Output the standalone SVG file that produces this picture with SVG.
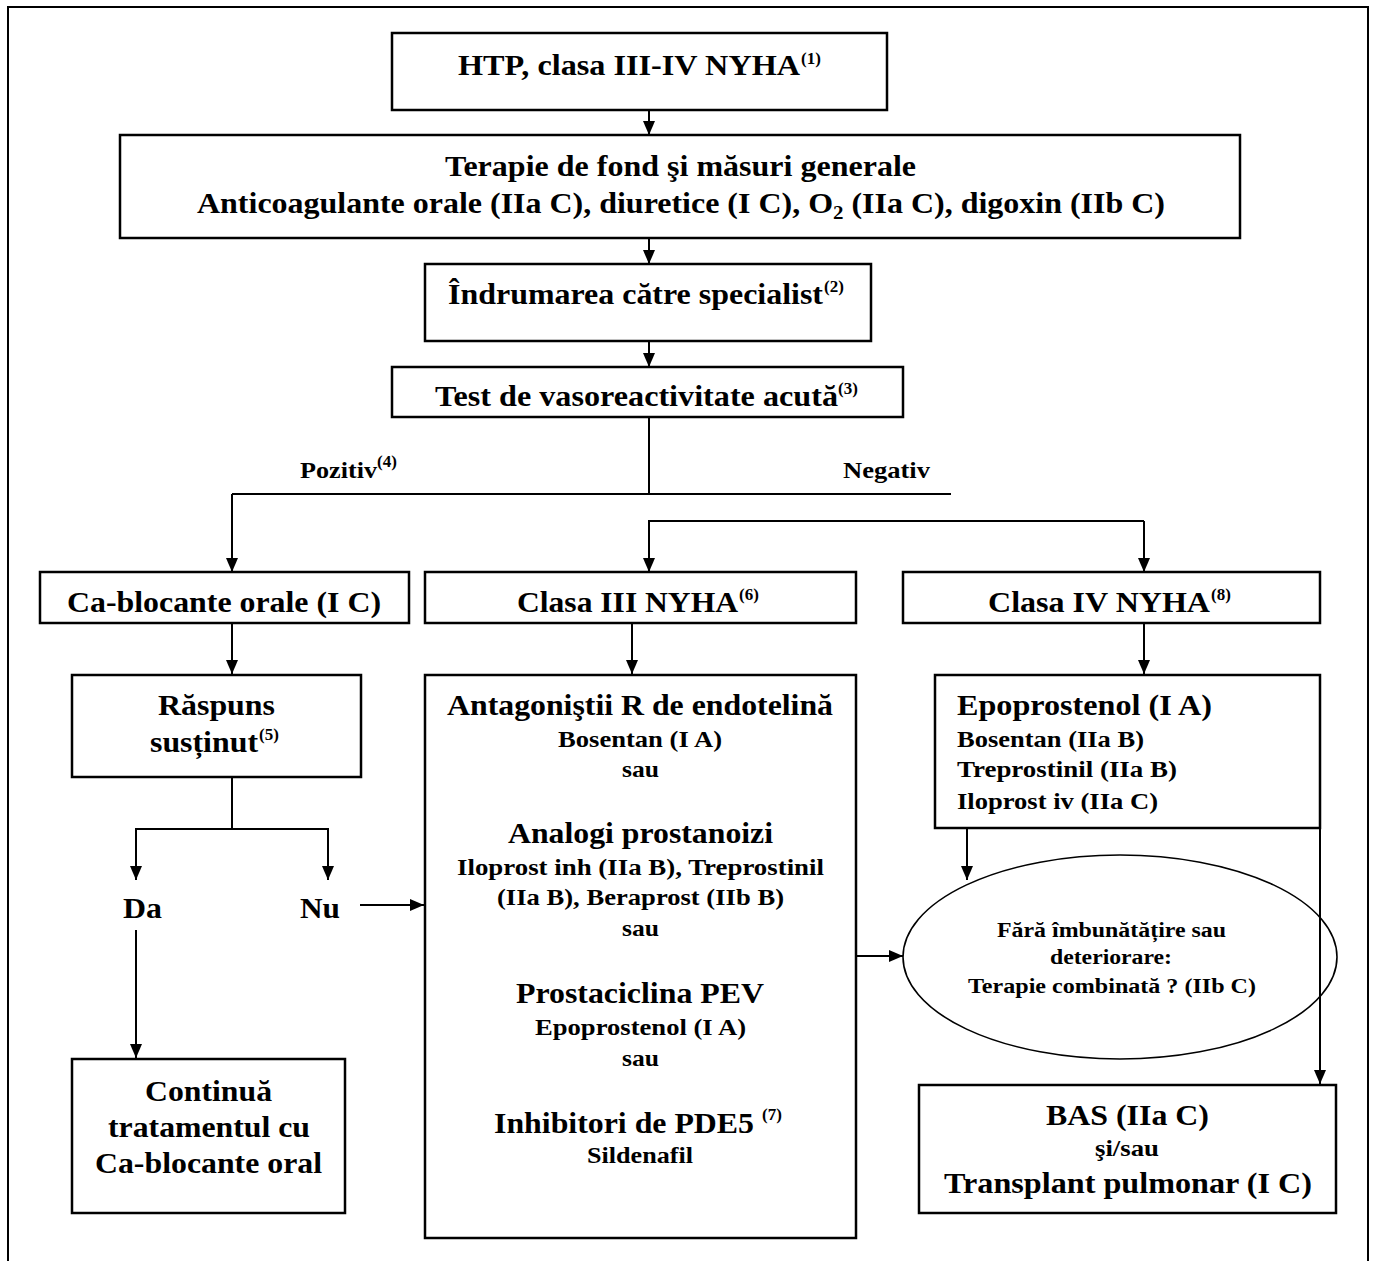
<svg xmlns="http://www.w3.org/2000/svg" width="1374" height="1261" viewBox="0 0 1374 1261">
<defs>
<marker id="ah" viewBox="0 0 14 12" refX="14" refY="6" markerWidth="14" markerHeight="12" markerUnits="userSpaceOnUse" orient="auto">
<path d="M0,0 L14,6 L0,12 z" fill="#000"/>
</marker>
</defs>
<style>
text{font-family:"Liberation Serif","Times New Roman",serif;font-weight:bold;fill:#000}
.b{fill:#fff;stroke:#000;stroke-width:2.5}
.c{fill:none;stroke:#000;stroke-width:2}
.a{marker-end:url(#ah)}
.L{font-size:29px}
.M{font-size:23px}
.S{font-size:20px}
.sup{font-size:17px}
</style>
<rect x="0" y="0" width="1374" height="1261" fill="#fff"/>
<rect x="8" y="7" width="1360" height="1270" fill="none" stroke="#000" stroke-width="2"/>

<g id="connectors">
<line class="c a" x1="649" y1="110" x2="649" y2="135"/>
<line class="c a" x1="649" y1="238" x2="649" y2="264"/>
<line class="c a" x1="649" y1="341" x2="649" y2="367"/>
<polyline class="c" points="649,417 649,494"/>
<line class="c" x1="232" y1="494" x2="951" y2="494"/>
<line class="c a" x1="232" y1="494" x2="232" y2="572"/>
<polyline class="c a" points="1144,521 649,521 649,572"/>
<line class="c a" x1="1144" y1="521" x2="1144" y2="572"/>
<line class="c a" x1="232" y1="623" x2="232" y2="674"/>
<line class="c a" x1="632" y1="623" x2="632" y2="674"/>
<line class="c a" x1="1144" y1="623" x2="1144" y2="674"/>
<line class="c" x1="232" y1="777" x2="232" y2="829"/>
<polyline class="c a" points="232,829 136,829 136,880"/>
<polyline class="c a" points="232,829 328,829 328,880"/>
<line class="c a" x1="136" y1="930" x2="136" y2="1058"/>
<line class="c a" x1="360" y1="905" x2="424" y2="905"/>
<line class="c a" x1="856" y1="956" x2="903" y2="956"/>
<line class="c a" x1="967" y1="828" x2="967" y2="880"/>
<line class="c a" x1="1320" y1="828" x2="1320" y2="1084"/>
</g>

<g id="n-htp">
<rect class="b" x="392" y="33" width="495" height="77"/>
<text class="L" x="458" y="75" textLength="342" lengthAdjust="spacingAndGlyphs">HTP, clasa III-IV NYHA</text>
<text class="sup" x="801" y="64">(1)</text>
</g>

<g id="n-terapie">
<rect class="b" x="120" y="135" width="1120" height="103"/>
<text class="L" x="445" y="176" textLength="471" lengthAdjust="spacingAndGlyphs">Terapie de fond şi măsuri generale</text>
<text class="L" x="197" y="213" textLength="968" lengthAdjust="spacingAndGlyphs">Anticoagulante orale (IIa C), diuretice (I C), O<tspan font-size="19" dy="6">2</tspan><tspan dy="-6"> (IIa C), digoxin (IIb C)</tspan></text>
</g>

<g id="n-indrumare">
<rect class="b" x="425" y="264" width="446" height="77"/>
<text class="L" x="448" y="304" textLength="375" lengthAdjust="spacingAndGlyphs">Îndrumarea către specialist</text>
<text class="sup" x="824" y="292">(2)</text>
</g>

<g id="n-test">
<rect class="b" x="392" y="367" width="511" height="50"/>
<text class="L" x="435" y="406" textLength="403" lengthAdjust="spacingAndGlyphs">Test de vasoreactivitate acută</text>
<text class="sup" x="838" y="394">(3)</text>
</g>

<g id="l-pozitiv">
<text class="M" x="300" y="478" textLength="77" lengthAdjust="spacingAndGlyphs">Pozitiv</text>
<text class="sup" x="377" y="467" font-size="15">(4)</text>
</g>
<g id="l-negativ">
<text class="M" x="843" y="478" textLength="87" lengthAdjust="spacingAndGlyphs">Negativ</text>
</g>

<g id="n-cablocante">
<rect class="b" x="40" y="572" width="369" height="51"/>
<text class="L" x="67" y="612" textLength="314" lengthAdjust="spacingAndGlyphs">Ca-blocante orale (I C)</text>
</g>

<g id="n-clasa3">
<rect class="b" x="425" y="572" width="431" height="51"/>
<text class="L" x="517" y="612" textLength="221" lengthAdjust="spacingAndGlyphs">Clasa III NYHA</text>
<text class="sup" x="739" y="600">(6)</text>
</g>

<g id="n-clasa4">
<rect class="b" x="903" y="572" width="417" height="51"/>
<text class="L" x="988" y="612" textLength="222" lengthAdjust="spacingAndGlyphs">Clasa IV NYHA</text>
<text class="sup" x="1211" y="600">(8)</text>
</g>

<g id="n-raspuns">
<rect class="b" x="72" y="675" width="289" height="102"/>
<text class="L" x="158" y="715" textLength="117" lengthAdjust="spacingAndGlyphs">Răspuns</text>
<text class="L" x="150" y="752" textLength="108" lengthAdjust="spacingAndGlyphs">susținut</text>
<text class="sup" x="259" y="740">(5)</text>
</g>

<g id="l-da"><text class="L" x="123" y="918" textLength="39" lengthAdjust="spacingAndGlyphs">Da</text></g>
<g id="l-nu"><text class="L" x="300" y="918" textLength="40" lengthAdjust="spacingAndGlyphs">Nu</text></g>

<g id="n-continua">
<rect class="b" x="72" y="1059" width="273" height="154"/>
<text class="L" x="145" y="1101" textLength="127" lengthAdjust="spacingAndGlyphs">Continuă</text>
<text class="L" x="108" y="1137" textLength="202" lengthAdjust="spacingAndGlyphs">tratamentul cu</text>
<text class="L" x="95" y="1173" textLength="227" lengthAdjust="spacingAndGlyphs">Ca-blocante oral</text>
</g>

<g id="n-tratament3">
<rect class="b" x="425" y="675" width="431" height="563"/>
<text class="L" x="447" y="715" textLength="386" lengthAdjust="spacingAndGlyphs">Antagoniştii R de endotelină</text>
<text class="M" x="558" y="747" textLength="164" lengthAdjust="spacingAndGlyphs">Bosentan (I A)</text>
<text class="M" x="622" y="777" textLength="37" lengthAdjust="spacingAndGlyphs">sau</text>
<text class="L" x="508" y="843" textLength="265" lengthAdjust="spacingAndGlyphs">Analogi prostanoizi</text>
<text class="M" x="457" y="875" textLength="367" lengthAdjust="spacingAndGlyphs">Iloprost inh (IIa B), Treprostinil</text>
<text class="M" x="497" y="905" textLength="287" lengthAdjust="spacingAndGlyphs">(IIa B), Beraprost (IIb B)</text>
<text class="M" x="622" y="936" textLength="37" lengthAdjust="spacingAndGlyphs">sau</text>
<text class="L" x="516" y="1003" textLength="248" lengthAdjust="spacingAndGlyphs">Prostaciclina PEV</text>
<text class="M" x="535" y="1035" textLength="211" lengthAdjust="spacingAndGlyphs">Epoprostenol (I A)</text>
<text class="M" x="622" y="1066" textLength="37" lengthAdjust="spacingAndGlyphs">sau</text>
<text class="L" x="494" y="1133" textLength="260" lengthAdjust="spacingAndGlyphs">Inhibitori de PDE5</text>
<text class="sup" x="762" y="1120">(7)</text>
<text class="M" x="587" y="1163" textLength="106" lengthAdjust="spacingAndGlyphs">Sildenafil</text>
</g>

<g id="n-tratament4">
<rect class="b" x="935" y="675" width="385" height="153"/>
<text class="L" x="957" y="715" textLength="255" lengthAdjust="spacingAndGlyphs">Epoprostenol (I A)</text>
<text class="M" x="957" y="747" textLength="187" lengthAdjust="spacingAndGlyphs">Bosentan (IIa B)</text>
<text class="M" x="957" y="777" textLength="220" lengthAdjust="spacingAndGlyphs">Treprostinil (IIa B)</text>
<text class="M" x="957" y="809" textLength="201" lengthAdjust="spacingAndGlyphs">Iloprost iv (IIa C)</text>
</g>

<g id="n-combinata">
<ellipse cx="1120" cy="957" rx="217" ry="102" fill="none" stroke="#000" stroke-width="1.6"/>
<text class="S" x="997" y="937" textLength="229" lengthAdjust="spacingAndGlyphs">Fără îmbunătățire sau</text>
<text class="S" x="1050" y="964" textLength="122" lengthAdjust="spacingAndGlyphs">deteriorare:</text>
<text class="S" x="968" y="993" textLength="288" lengthAdjust="spacingAndGlyphs">Terapie combinată ? (IIb C)</text>
</g>

<g id="n-bas">
<rect class="b" x="919" y="1085" width="417" height="128"/>
<text class="L" x="1046" y="1125" textLength="163" lengthAdjust="spacingAndGlyphs">BAS (IIa C)</text>
<text class="M" x="1095" y="1156" textLength="64" lengthAdjust="spacingAndGlyphs">şi/sau</text>
<text class="L" x="944" y="1193" textLength="368" lengthAdjust="spacingAndGlyphs">Transplant pulmonar (I C)</text>
</g>
</svg>
